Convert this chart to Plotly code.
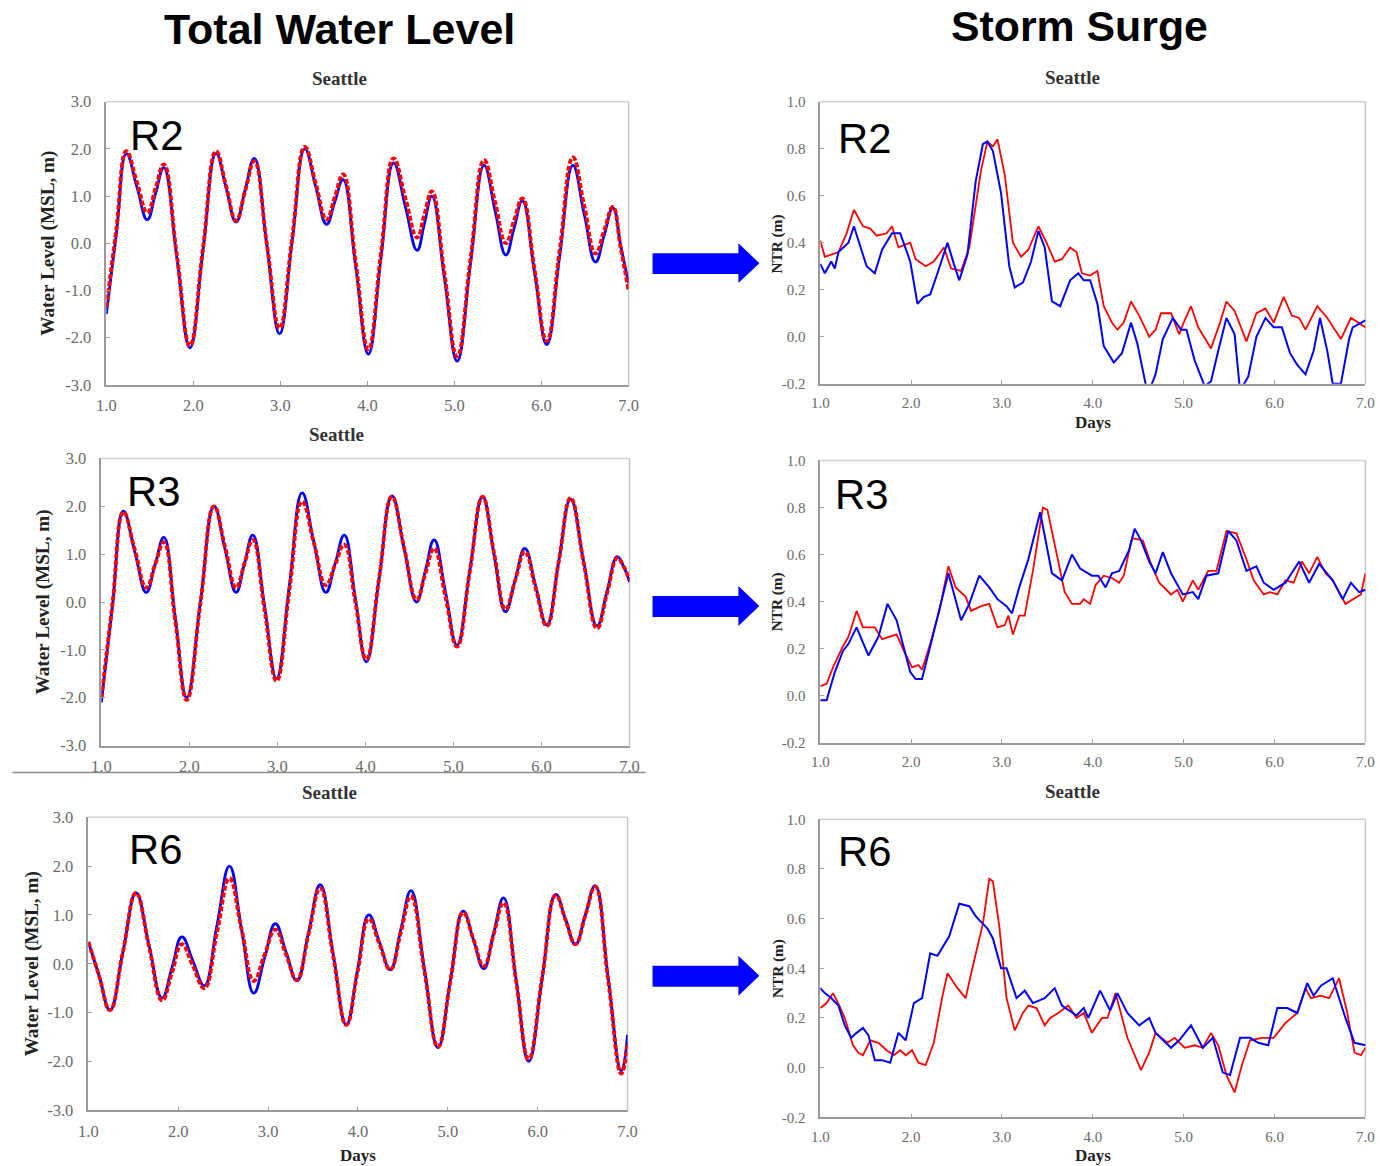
import plotly.graph_objects as go

W, H = 1380, 1166

# The screenshot of this page comes back slightly scaled (about 0.987) and shifted (about 8 px);
# layout positions below are given in target-picture pixels and mapped back to figure pixels.
SX, SY, AX, AY = 0.987, 0.987, 8.5, 7.0

# ---------------- DATA ----------------
x_ticks = [1, 2, 3, 4, 5, 6, 7]
x_ticktext = ["1.0", "2.0", "3.0", "4.0", "5.0", "6.0", "7.0"]
twl_ticks = [-3, -2, -1, 0, 1, 2, 3]
twl_ticktext = ["-3.0", "-2.0", "-1.0", "0.0", "1.0", "2.0", "3.0"]
ntr_ticks = [-0.2, 0.0, 0.2, 0.4, 0.6, 0.8, 1.0]
ntr_ticktext = ["-0.2", "0.0", "0.2", "0.4", "0.6", "0.8", "1.0"]

# Total water level, R2
t_twl_r2 = [1.00, 1.115, 1.23, 1.35, 1.47, 1.565, 1.66, 1.81, 1.96, 2.11, 2.26, 2.375, 2.49, 2.595, 2.70, 2.845,
            2.99, 3.135, 3.28, 3.405, 3.53, 3.625, 3.72, 3.865, 4.01, 4.155, 4.30, 4.435, 4.57, 4.655, 4.74, 4.885,
            5.03, 5.185, 5.34, 5.465, 5.59, 5.685, 5.78, 5.92, 6.06, 6.21, 6.36, 6.49, 6.62, 6.72, 6.82, 6.91, 7.00]
red_twl_r2 = [-1.35, 0.30, 1.95, 1.30, 0.65, 1.16, 1.67, -0.25, -2.17, -0.11, 1.95, 1.22, 0.48, 1.11, 1.74, -0.03,
              -1.80, 0.12, 2.04, 1.27, 0.50, 0.98, 1.46, -0.40, -2.25, -0.22, 1.80, 0.96, 0.12, 0.61, 1.10, -0.65,
              -2.40, -0.32, 1.76, 0.88, 0.00, 0.48, 0.95, -0.56, -2.08, -0.13, 1.82, 0.80, -0.22, 0.27, 0.77, -0.10, -1.00]
blue_twl_r2 = [-1.50, 0.20, 1.90, 1.20, 0.50, 1.05, 1.60, -0.31, -2.22, -0.16, 1.90, 1.18, 0.45, 1.13, 1.80, -0.06,
               -1.92, 0.04, 2.00, 1.20, 0.40, 0.88, 1.35, -0.50, -2.35, -0.32, 1.70, 0.78, -0.15, 0.42, 1.00, -0.75,
               -2.50, -0.42, 1.65, 0.70, -0.25, 0.32, 0.90, -0.62, -2.15, -0.25, 1.65, 0.62, -0.40, 0.17, 0.75, -0.05, -0.85]

# Total water level, R3
t_twl_r3 = [1.00, 1.125, 1.25, 1.38, 1.51, 1.61, 1.71, 1.84, 1.97, 2.125, 2.28, 2.405, 2.53, 2.625, 2.72, 2.855,
            2.99, 3.135, 3.28, 3.415, 3.55, 3.655, 3.76, 3.885, 4.01, 4.155, 4.30, 4.44, 4.58, 4.68, 4.78, 4.91,
            5.04, 5.185, 5.33, 5.46, 5.59, 5.70, 5.81, 5.935, 6.06, 6.195, 6.33, 6.48, 6.63, 6.745, 6.86, 6.93, 7.00]
red_twl_r3 = [-2.00, -0.06, 1.88, 1.09, 0.30, 0.78, 1.25, -0.40, -2.05, -0.03, 2.00, 1.15, 0.30, 0.80, 1.30, -0.18,
              -1.65, 0.23, 2.10, 1.23, 0.35, 0.78, 1.20, 0.00, -1.20, 0.50, 2.20, 1.13, 0.05, 0.59, 1.12, 0.10,
              -0.93, 0.64, 2.20, 1.03, -0.15, 0.45, 1.05, 0.28, -0.50, 0.84, 2.17, 0.81, -0.55, 0.19, 0.92, 0.75, 0.45]
blue_twl_r3 = [-2.10, -0.10, 1.90, 1.05, 0.20, 0.78, 1.35, -0.33, -2.00, 0.00, 2.00, 1.10, 0.20, 0.80, 1.40, -0.10,
               -1.60, 0.34, 2.28, 1.24, 0.20, 0.80, 1.40, 0.08, -1.25, 0.49, 2.22, 1.11, 0.00, 0.65, 1.30, 0.20,
               -0.90, 0.65, 2.20, 1.00, -0.20, 0.46, 1.12, 0.32, -0.48, 0.84, 2.15, 0.83, -0.50, 0.23, 0.95, 0.75, 0.42]

# Total water level, R6
t_twl_r6 = [1.00, 1.12, 1.24, 1.385, 1.53, 1.675, 1.82, 1.93, 2.04, 2.165, 2.29, 2.43, 2.57, 2.705, 2.84, 2.96,
            3.08, 3.20, 3.32, 3.45, 3.58, 3.725, 3.87, 3.995, 4.12, 4.24, 4.36, 4.475, 4.59, 4.74, 4.89, 5.03,
            5.17, 5.285, 5.40, 5.51, 5.62, 5.76, 5.90, 6.05, 6.20, 6.31, 6.42, 6.53, 6.64, 6.785, 6.93, 7.00]
red_twl_r6 = [0.45, -0.25, -0.95, 0.25, 1.45, 0.35, -0.75, -0.18, 0.40, -0.05, -0.50, 0.63, 1.75, 0.70, -0.35, 0.18,
              0.70, 0.19, -0.33, 0.61, 1.55, 0.15, -1.25, -0.17, 0.92, 0.40, -0.12, 0.63, 1.38, -0.16, -1.70, -0.33,
              1.05, 0.50, -0.05, 0.60, 1.25, -0.35, -1.95, -0.28, 1.40, 0.90, 0.40, 0.99, 1.58, -0.34, -2.25, -1.60]
blue_twl_r6 = [0.45, -0.25, -0.95, 0.25, 1.45, 0.38, -0.70, -0.08, 0.55, 0.05, -0.45, 0.78, 2.00, 0.70, -0.60, 0.11,
               0.82, 0.24, -0.35, 0.64, 1.62, 0.19, -1.25, -0.13, 1.00, 0.44, -0.12, 0.69, 1.50, -0.11, -1.72, -0.32,
               1.08, 0.49, -0.10, 0.63, 1.35, -0.33, -2.00, -0.29, 1.42, 0.91, 0.40, 1.00, 1.60, -0.30, -2.20, -1.45]

# Storm surge (NTR), R2
t_red_ntr_r2 = [1.00, 1.05, 1.20, 1.29, 1.37, 1.47, 1.55, 1.62, 1.73, 1.79, 1.86, 1.99, 2.05, 2.16, 2.25, 2.36, 2.44,
                2.55, 2.64, 2.77, 2.84, 2.90, 2.95, 3.03, 3.12, 3.21, 3.29, 3.40, 3.49, 3.58, 3.66, 3.75, 3.82, 3.88,
                3.97, 4.05, 4.12, 4.21, 4.27, 4.34, 4.42, 4.51, 4.62, 4.69, 4.75, 4.86, 4.95, 5.01, 5.08, 5.16, 5.30,
                5.40, 5.47, 5.56, 5.69, 5.80, 5.90, 5.99, 6.10, 6.19, 6.27, 6.34, 6.47, 6.58, 6.73, 6.84, 7.00]
red_ntr_r2 = [0.41, 0.34, 0.36, 0.44, 0.54, 0.47, 0.46, 0.43, 0.44, 0.47, 0.38, 0.40, 0.33, 0.30, 0.32, 0.38, 0.29,
              0.28, 0.38, 0.71, 0.83, 0.81, 0.84, 0.69, 0.40, 0.34, 0.37, 0.47, 0.40, 0.32, 0.33, 0.38, 0.36, 0.27,
              0.26, 0.28, 0.13, 0.06, 0.03, 0.06, 0.15, 0.09, 0.00, 0.03, 0.10, 0.10, 0.01, 0.07, 0.13, 0.04, -0.05,
              0.06, 0.15, 0.11, -0.02, 0.10, 0.12, 0.06, 0.17, 0.09, 0.08, 0.03, 0.13, 0.08, -0.01, 0.08, 0.04]
t_blue_ntr_r2 = [1.00, 1.05, 1.12, 1.16, 1.20, 1.31, 1.37, 1.42, 1.51, 1.60, 1.68, 1.79, 1.88, 1.99, 2.07, 2.14, 2.21,
                 2.29, 2.40, 2.47, 2.53, 2.62, 2.71, 2.79, 2.84, 2.90, 2.99, 3.08, 3.14, 3.23, 3.32, 3.40, 3.47, 3.55,
                 3.64, 3.75, 3.84, 3.90, 3.97, 4.05, 4.12, 4.23, 4.32, 4.42, 4.49, 4.58, 4.62, 4.69, 4.77, 4.88, 4.97,
                 5.03, 5.12, 5.23, 5.30, 5.38, 5.47, 5.56, 5.62, 5.71, 5.80, 5.90, 5.99, 6.08, 6.17, 6.25, 6.34, 6.43,
                 6.50, 6.58, 6.64, 6.73, 6.82, 6.86, 7.00]
blue_ntr_r2 = [0.31, 0.27, 0.32, 0.29, 0.36, 0.40, 0.47, 0.41, 0.30, 0.27, 0.37, 0.44, 0.44, 0.32, 0.14, 0.17, 0.18,
               0.27, 0.40, 0.31, 0.24, 0.35, 0.66, 0.82, 0.83, 0.79, 0.61, 0.30, 0.21, 0.23, 0.32, 0.45, 0.38, 0.15,
               0.13, 0.24, 0.27, 0.24, 0.24, 0.14, -0.04, -0.11, -0.07, 0.06, -0.03, -0.20, -0.23, -0.16, -0.01, 0.08, 0.03,
               0.03, -0.10, -0.21, -0.19, -0.06, 0.08, 0.01, -0.23, -0.17, 0.00, 0.08, 0.04, 0.04, -0.07, -0.12, -0.16, -0.06,
               0.08, -0.06, -0.20, -0.20, -0.01, 0.04, 0.07]

# Storm surge (NTR), R3
t_red_ntr_r3 = [1.00, 1.07, 1.14, 1.25, 1.31, 1.40, 1.47, 1.60, 1.68, 1.84, 1.92, 2.01, 2.08, 2.12, 2.21, 2.31, 2.41,
                2.49, 2.60, 2.66, 2.77, 2.86, 2.95, 3.03, 3.07, 3.12, 3.19, 3.25, 3.34, 3.45, 3.50, 3.60, 3.69, 3.77,
                3.86, 3.90, 3.97, 4.03, 4.12, 4.21, 4.29, 4.34, 4.43, 4.55, 4.64, 4.73, 4.86, 4.93, 4.99, 5.10, 5.16,
                5.27, 5.36, 5.47, 5.58, 5.69, 5.77, 5.88, 5.95, 6.03, 6.12, 6.21, 6.30, 6.38, 6.47, 6.56, 6.64, 6.78,
                6.86, 6.95, 7.00]
red_ntr_r3 = [0.04, 0.05, 0.12, 0.21, 0.25, 0.36, 0.29, 0.29, 0.24, 0.26, 0.19, 0.12, 0.13, 0.11, 0.22, 0.36, 0.55,
              0.46, 0.42, 0.36, 0.38, 0.39, 0.29, 0.30, 0.34, 0.26, 0.34, 0.34, 0.53, 0.80, 0.79, 0.60, 0.44, 0.39,
              0.39, 0.41, 0.39, 0.47, 0.51, 0.50, 0.48, 0.51, 0.67, 0.66, 0.56, 0.48, 0.43, 0.45, 0.40, 0.49, 0.45,
              0.53, 0.53, 0.70, 0.69, 0.58, 0.49, 0.43, 0.44, 0.43, 0.49, 0.48, 0.57, 0.52, 0.59, 0.52, 0.49, 0.39,
              0.41, 0.43, 0.52]
t_blue_ntr_r3 = [1.00, 1.07, 1.16, 1.25, 1.31, 1.40, 1.53, 1.64, 1.74, 1.84, 1.99, 2.05, 2.12, 2.21, 2.31, 2.41, 2.55,
                 2.64, 2.75, 2.86, 2.95, 3.05, 3.11, 3.19, 3.29, 3.42, 3.55, 3.66, 3.77, 3.86, 3.99, 4.06, 4.14, 4.21,
                 4.29, 4.40, 4.46, 4.53, 4.62, 4.69, 4.77, 4.86, 4.99, 5.10, 5.16, 5.25, 5.38, 5.49, 5.58, 5.69, 5.80,
                 5.88, 5.99, 6.12, 6.27, 6.38, 6.49, 6.64, 6.75, 6.84, 6.93, 7.00]
blue_ntr_r3 = [-0.02, -0.02, 0.10, 0.19, 0.22, 0.29, 0.17, 0.25, 0.39, 0.32, 0.10, 0.07, 0.07, 0.21, 0.36, 0.52, 0.32,
               0.39, 0.51, 0.46, 0.41, 0.38, 0.35, 0.46, 0.58, 0.78, 0.52, 0.49, 0.60, 0.54, 0.51, 0.51, 0.46, 0.52,
               0.53, 0.62, 0.71, 0.66, 0.57, 0.52, 0.61, 0.52, 0.43, 0.44, 0.41, 0.51, 0.52, 0.70, 0.66, 0.53, 0.55,
               0.48, 0.45, 0.48, 0.57, 0.48, 0.56, 0.49, 0.41, 0.48, 0.44, 0.45]

# Storm surge (NTR), R6
t_red_ntr_r6 = [1.00, 1.07, 1.14, 1.21, 1.27, 1.36, 1.42, 1.47, 1.55, 1.64, 1.73, 1.81, 1.88, 1.94, 2.01, 2.08, 2.16,
                2.25, 2.34, 2.40, 2.51, 2.60, 2.68, 2.79, 2.86, 2.90, 2.97, 3.05, 3.14, 3.23, 3.29, 3.38, 3.47, 3.53,
                3.62, 3.73, 3.82, 3.90, 3.99, 4.10, 4.16, 4.25, 4.38, 4.53, 4.62, 4.69, 4.82, 4.90, 5.01, 5.12, 5.21,
                5.30, 5.38, 5.47, 5.56, 5.64, 5.73, 5.86, 5.99, 6.12, 6.25, 6.34, 6.40, 6.51, 6.60, 6.71, 6.80, 6.88,
                6.95, 7.00]
red_ntr_r6 = [0.24, 0.26, 0.30, 0.25, 0.20, 0.09, 0.06, 0.05, 0.11, 0.10, 0.07, 0.05, 0.07, 0.05, 0.07, 0.02, 0.01,
              0.10, 0.28, 0.38, 0.32, 0.28, 0.41, 0.58, 0.76, 0.75, 0.57, 0.28, 0.15, 0.22, 0.25, 0.24, 0.17, 0.20,
              0.22, 0.25, 0.20, 0.22, 0.14, 0.20, 0.20, 0.30, 0.12, -0.01, 0.06, 0.14, 0.10, 0.12, 0.08, 0.09, 0.08,
              0.14, 0.09, -0.03, -0.10, 0.01, 0.11, 0.12, 0.12, 0.18, 0.22, 0.32, 0.28, 0.29, 0.28, 0.36, 0.22, 0.06,
              0.05, 0.08]
t_blue_ntr_r6 = [1.00, 1.05, 1.12, 1.20, 1.27, 1.34, 1.40, 1.47, 1.53, 1.60, 1.68, 1.77, 1.86, 1.94, 2.03, 2.12, 2.21,
                 2.29, 2.42, 2.53, 2.64, 2.71, 2.84, 2.90, 2.99, 3.05, 3.16, 3.25, 3.34, 3.47, 3.58, 3.66, 3.82, 3.90,
                 3.95, 4.08, 4.19, 4.27, 4.38, 4.51, 4.62, 4.69, 4.86, 4.95, 5.08, 5.21, 5.32, 5.43, 5.51, 5.62, 5.73,
                 5.82, 5.93, 6.03, 6.14, 6.25, 6.36, 6.43, 6.51, 6.64, 6.78, 6.88, 7.00]
blue_ntr_r6 = [0.32, 0.30, 0.28, 0.25, 0.17, 0.12, 0.14, 0.16, 0.13, 0.03, 0.03, 0.02, 0.14, 0.11, 0.26, 0.28, 0.46,
               0.45, 0.53, 0.66, 0.65, 0.61, 0.56, 0.52, 0.40, 0.40, 0.28, 0.31, 0.26, 0.28, 0.32, 0.25, 0.21, 0.24,
               0.20, 0.31, 0.23, 0.30, 0.22, 0.17, 0.20, 0.14, 0.08, 0.11, 0.17, 0.08, 0.12, -0.02, -0.03, 0.12, 0.12,
               0.10, 0.09, 0.24, 0.24, 0.22, 0.34, 0.29, 0.33, 0.36, 0.20, 0.10, 0.09]

run_labels = ["R2", "R3", "R6"]
station = "Seattle"

# ---------------- LAYOUT HELPERS ----------------
def px(x):
    return ((x - AX) / SX) / W

def py(y):
    return 1 - ((y - AY) / SY) / H

# plot-area boxes in target pixels: (left, right, top, bottom)
boxes = {
    1: (105, 628, 100, 384),   # TL
    2: (820, 1366, 100, 383),  # TR
    3: (100, 629, 458, 746),   # ML
    4: (820, 1366, 460, 743),  # MR
    5: (87, 627, 818, 1112),   # BL
    6: (820, 1366, 820, 1119), # BR
}

BLUE = "#0000ff"
RED = "#ff0000"
TICKFONT = dict(family="Liberation Serif, Times New Roman, serif", size=16.5, color="#6a6a6a")
TICKFONT_R = dict(family="Liberation Serif, Times New Roman, serif", size=15, color="#6a6a6a")

fig = go.Figure()

twl_sets = [(t_twl_r2, blue_twl_r2, red_twl_r2), (t_twl_r3, blue_twl_r3, red_twl_r3), (t_twl_r6, blue_twl_r6, red_twl_r6)]
ntr_sets = [(t_blue_ntr_r2, blue_ntr_r2, t_red_ntr_r2, red_ntr_r2),
            (t_blue_ntr_r3, blue_ntr_r3, t_red_ntr_r3, red_ntr_r3),
            (t_blue_ntr_r6, blue_ntr_r6, t_red_ntr_r6, red_ntr_r6)]

for i in range(3):
    n_left = 2 * i + 1
    n_right = 2 * i + 2
    sx = "" if n_left == 1 else str(n_left)
    t, b, r = twl_sets[i]
    fig.add_trace(go.Scatter(x=t, y=b, mode="lines", line=dict(color=BLUE, width=2.8, shape="spline", smoothing=1.3),
                             xaxis="x" + sx, yaxis="y" + sx, showlegend=False, hoverinfo="skip"))
    fig.add_trace(go.Scatter(x=t, y=r, mode="lines", line=dict(color=RED, width=3.8, shape="spline", smoothing=1.3, dash="5px,2px"),
                             xaxis="x" + sx, yaxis="y" + sx, showlegend=False, hoverinfo="skip"))
    tb, vb, tr, vr = ntr_sets[i]
    sr = str(n_right)
    fig.add_trace(go.Scatter(x=tr, y=vr, mode="lines", line=dict(color=RED, width=1.8),
                             xaxis="x" + sr, yaxis="y" + sr, showlegend=False, hoverinfo="skip"))
    fig.add_trace(go.Scatter(x=tb, y=vb, mode="lines", line=dict(color=BLUE, width=2.0),
                             xaxis="x" + sr, yaxis="y" + sr, showlegend=False, hoverinfo="skip"))

layout = dict(width=W, height=H, margin=dict(l=0, r=0, t=0, b=0),
              paper_bgcolor="white", plot_bgcolor="white", showlegend=False)

shapes = []
for n, (l, rr, tp, bt) in boxes.items():
    s = "" if n == 1 else str(n)
    left = (n % 2 == 1)
    layout["xaxis" + s] = dict(domain=[px(l), px(rr)], anchor="y" + s, range=[1, 7],
                               tickvals=x_ticks, ticktext=x_ticktext, ticks="inside", ticklen=4,
                               tickcolor="#a0a0a0", showline=True, linecolor="#9a9a9a", linewidth=1.5,
                               showgrid=False, zeroline=False, tickfont=TICKFONT if left else TICKFONT_R,
                               ticklabelstandoff=5)
    if left:
        yv, yt, yr = twl_ticks, twl_ticktext, [-3, 3]
    else:
        yv, yt, yr = ntr_ticks, ntr_ticktext, [-0.2, 1.0]
    layout["yaxis" + s] = dict(domain=[py(bt), py(tp)], anchor="x" + s, range=yr,
                               tickvals=yv, ticktext=yt, ticks="inside", ticklen=4,
                               tickcolor="#a0a0a0", showline=True, linecolor="#9a9a9a", linewidth=1.5,
                               showgrid=False, zeroline=False, tickfont=TICKFONT if left else TICKFONT_R,
                               ticklabelstandoff=10)
    # light frame on top and right
    shapes.append(dict(type="line", xref="paper", yref="paper", x0=px(l), x1=px(rr), y0=py(tp), y1=py(tp),
                       line=dict(color="#d2d2d2", width=1.5), layer="below"))
    shapes.append(dict(type="line", xref="paper", yref="paper", x0=px(rr), x1=px(rr), y0=py(tp), y1=py(bt),
                       line=dict(color="#c8c8c8", width=1.5), layer="below"))

# arrows
for cy in [262, 606, 977]:
    pts = [(652, cy - 10), (738, cy - 10), (738, cy - 20), (759, cy), (738, cy + 20), (738, cy + 11), (652, cy + 11)]
    path = "M " + " L ".join(f"{px(x):.5f},{py(y):.5f}" for x, y in pts) + " Z"
    shapes.append(dict(type="path", xref="paper", yref="paper", path=path, fillcolor=BLUE,
                       line=dict(color=BLUE, width=0)))

# separator line under middle-left panel
shapes.append(dict(type="line", xref="paper", yref="paper", x0=px(11), x1=px(645), y0=py(773), y1=py(773),
                   line=dict(color="#8a8a8a", width=1.5)))
layout["shapes"] = shapes

ann = []
SANS = "Liberation Sans, Arial, sans-serif"
SERIF = "Liberation Serif, Times New Roman, serif"

def text(x, y, s, size, family, color="black", bold=False, angle=0, xanchor="center"):
    ann.append(dict(x=px(x), y=py(y), xref="paper", yref="paper", text=("<b>%s</b>" % s) if bold else s,
                    showarrow=False, font=dict(family=family, size=size, color=color), textangle=angle,
                    xanchor=xanchor, yanchor="middle"))

text(338, 27, "Total Water Level", 43, SANS, bold=True)
text(1080, 24, "Storm Surge", 42.8, SANS, bold=True)

for (x, y) in [(338, 77), (1073, 76), (335, 434), (328, 793), (1073, 792)]:
    text(x, y, station, 19, SERIF, color="#333333", bold=True)

for (x, y, k) in [(127, 134, 0), (836, 137, 0), (124, 491, 1), (833, 494, 1), (126, 850, 2), (836, 852, 2)]:
    text(x, y, run_labels[k], 41.8, SANS, xanchor="left")

for (x, y) in [(47, 242), (42, 602), (30, 965)]:
    text(x, y, "Water Level (MSL, m)", 19.2, SERIF, color="#222222", bold=True, angle=-90)
for (x, y) in [(777, 243), (777, 602), (777, 970)]:
    text(x, y, "NTR (m)", 15.3, SERIF, color="#222222", bold=True, angle=-90)
for (x, y) in [(1093, 422), (1093, 1157), (357, 1157)]:
    text(x, y, "Days", 17, SERIF, color="#222222", bold=True)

layout["annotations"] = ann
fig.update_layout(**layout)

pin_js = ("var d=document.getElementById('{plot_id}');"
          "d.style.position='fixed';d.style.left='0px';d.style.top='0px';"
          "document.body.style.margin='0';document.body.style.padding='0';"
          "document.body.style.overflow='hidden';document.documentElement.style.overflow='hidden';")
fig.write_html("out.html", config={"displayModeBar": False}, post_script=pin_js)
